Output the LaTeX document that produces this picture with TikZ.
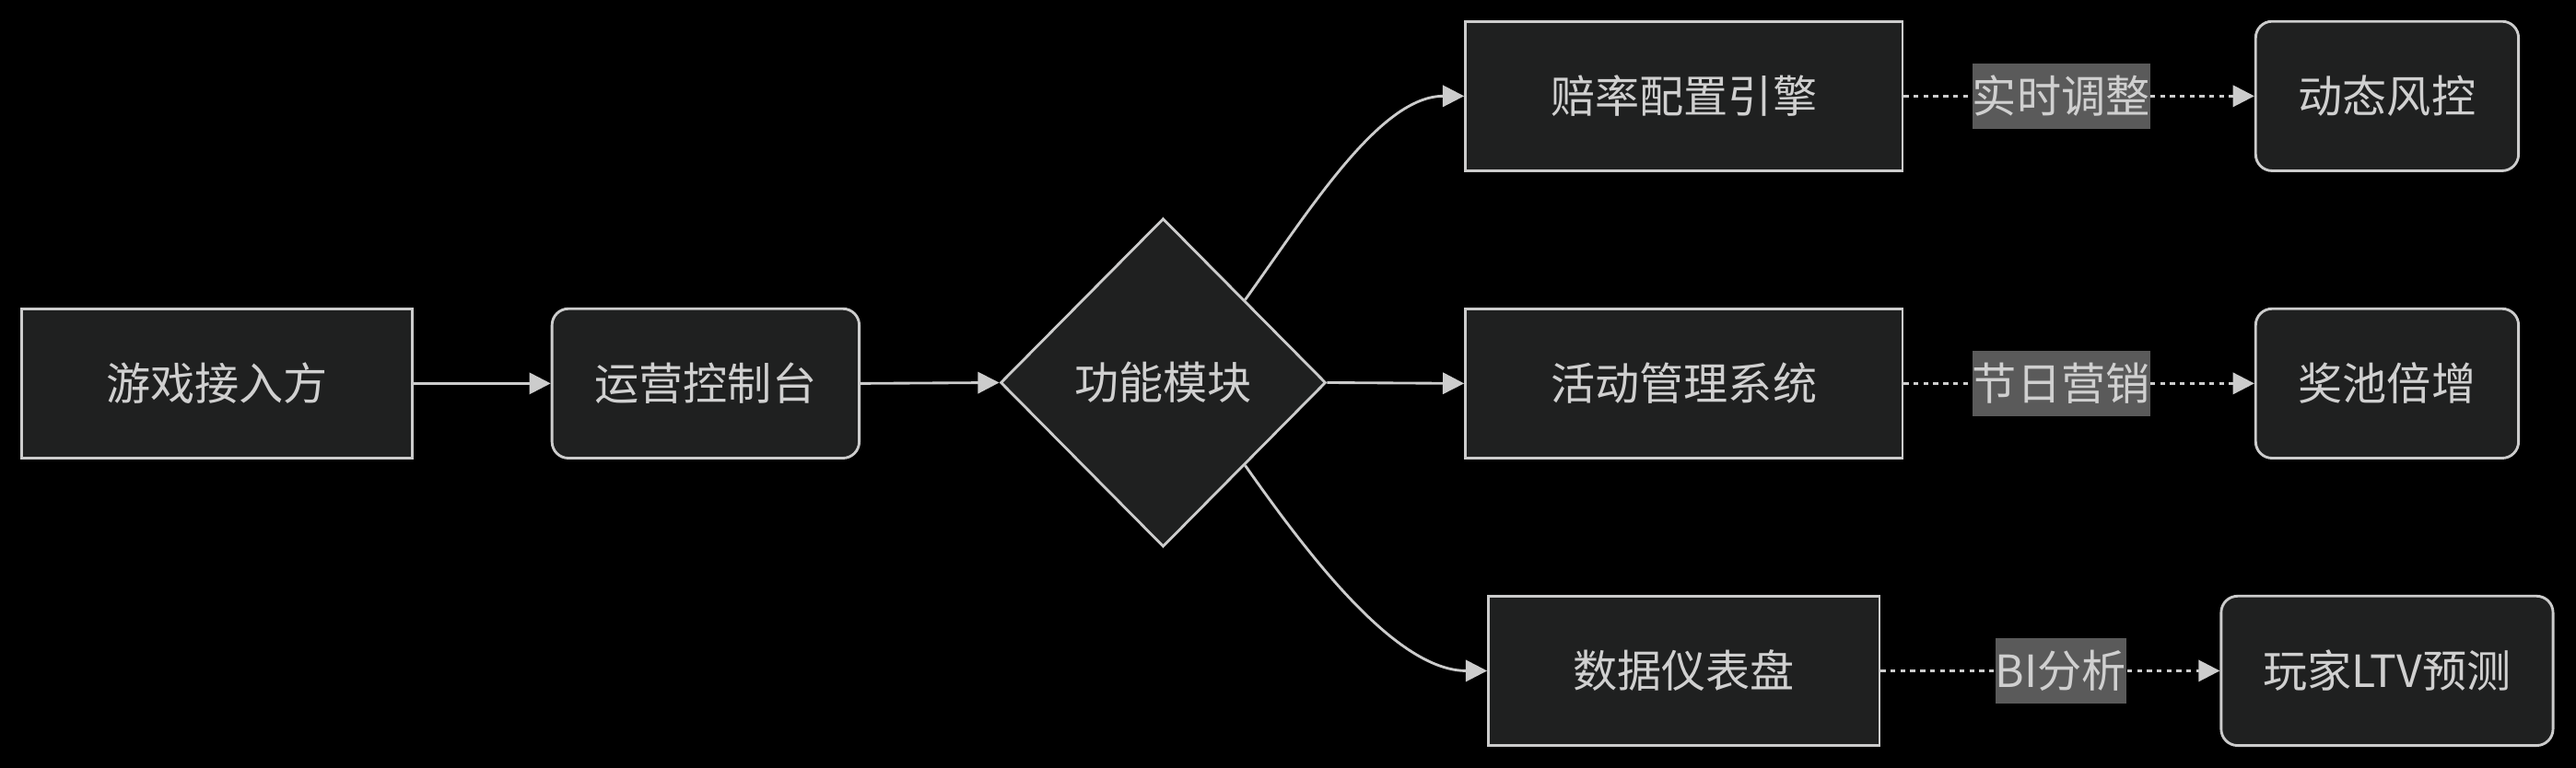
\documentclass[tikz,border=0pt]{standalone}
\usepackage{fontspec}
\newfontfamily\cjk{Noto Sans CJK SC}
\usetikzlibrary{shapes.geometric,arrows.meta}
\definecolor{nodefill}{HTML}{1F2020}
\definecolor{linec}{HTML}{CCCCCC}
\definecolor{txtc}{HTML}{D0D0D0}
\definecolor{lblbg}{HTML}{5A5A5A}
\tikzset{
  base/.style={draw=linec, line width=0.8pt, fill=nodefill, text=txtc, font=\cjk\fontsize{13.5}{16}\selectfont, inner sep=0pt, minimum height=45.5pt},
  sqbox/.style={base, rectangle},
  rbox/.style={base, rectangle, rounded corners=5pt},
  dia/.style={base, diamond, minimum width=99pt, minimum height=100pt},
  conn/.style={draw=linec, line width=0.8pt, -{Triangle[length=6.5pt,width=6.5pt]}},
  dotconn/.style={conn, dash pattern=on 1.5pt off 1.5pt},
  lbl/.style={fill=lblbg, text=txtc, font=\cjk\fontsize{13.5}{16}\selectfont, inner xsep=0pt, inner ysep=0pt, minimum height=20pt}
}
\begin{document}
\begin{tikzpicture}[x=0.5pt,y=-0.5pt]
\fill[black] (0,0) rectangle (1568,467.7);
\useasboundingbox (0,0) rectangle (1568,467.7);
\node[sqbox, minimum width=119pt] (a) at (132,233.5) {游戏接入方};
\node[rbox, minimum width=93.5pt] (b) at (429.5,233.5) {运营控制台};
\node[dia] (c) at (708,233) {功能模块};
\node[sqbox, minimum width=133pt] (d) at (1025,58.5) {赔率配置引擎};
\node[sqbox, minimum width=133pt] (e) at (1025,233.5) {活动管理系统};
\node[sqbox, minimum width=119pt] (f) at (1025,408.5) {数据仪表盘};
\node[rbox, minimum width=80pt] (g) at (1453,58.5) {动态风控};
\node[rbox, minimum width=80pt] (h) at (1453,233.5) {奖池倍增};
\node[rbox, minimum width=101pt] (i) at (1453,408.5) {玩家LTV预测};
\draw[conn] (a.east) -- (b.west);
\draw[conn] (b.east) -- (c.west);
\draw[conn] (c.north east) .. controls (797,128) and (840,58.5) .. (d.west);
\draw[conn] (c.east) -- (e.west);
\draw[conn] (c.south east) .. controls (797,339) and (850,408.5) .. (f.west);
\draw[dotconn] (d.east) -- node[lbl, pos=0.449] (l1) {实时调整} (g.west);
\draw[dotconn] (e.east) -- node[lbl, pos=0.449] (l2) {节日营销} (h.west);
\draw[dotconn] (f.east) -- node[lbl, pos=0.531] (l3) {BI分析} (i.west);
\end{tikzpicture}
\end{document}
